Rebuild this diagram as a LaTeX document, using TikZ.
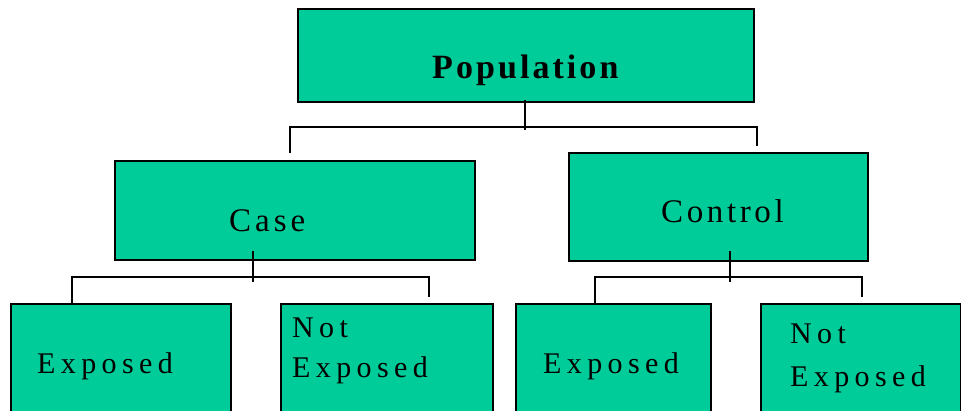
\documentclass[tikz,border=0pt]{standalone}
\usepackage{fontspec}
\setmainfont{Liberation Serif}
\definecolor{boxgreen}{RGB}{0,204,153}
\begin{document}
\begin{tikzpicture}[x=1pt,y=-1pt,
  gbox/.style={draw=black,fill=boxgreen,line width=2pt,rectangle,inner sep=0pt},
  conn/.style={draw=black,line width=2pt},
  lbl/.style={anchor=base west,inner sep=0pt,text=black}]
\useasboundingbox (0,0) rectangle (961,410);
\clip (0,0) rectangle (961,410);
% boxes
\node[gbox,minimum width=456pt,minimum height=93pt] (pop) at (526,55.5) {};
\node[gbox,minimum width=360pt,minimum height=99pt] (case) at (295,210.5) {};
\node[gbox,minimum width=299pt,minimum height=108pt] (ctrl) at (718.5,207) {};
\node[gbox,minimum width=220pt,minimum height=130pt] (e1) at (121,369) {};
\node[gbox,minimum width=212pt,minimum height=130pt] (n1) at (387,369) {};
\node[gbox,minimum width=195pt,minimum height=130pt] (e2) at (613.5,369) {};
\node[gbox,minimum width=200pt,minimum height=130pt] (n2) at (861,369) {};
% labels
\node[lbl,font=\fontsize{34}{34}\selectfont\bfseries\addfontfeatures{LetterSpace=9}] (tpop) at (432,78) {Population};
\node[lbl,font=\fontsize{33}{33}\selectfont\addfontfeatures{LetterSpace=12}] (tcase) at (229,231) {Case};
\node[lbl,font=\fontsize{33}{33}\selectfont\addfontfeatures{LetterSpace=11}] (tctrl) at (661,222) {Control};
\node[lbl,font=\fontsize{30}{30}\selectfont\addfontfeatures{LetterSpace=18}] (te1) at (37,373) {Exposed};
\node[lbl,font=\fontsize{30}{30}\selectfont\addfontfeatures{LetterSpace=18}] (tn1a) at (292,337) {Not};
\node[lbl,font=\fontsize{30}{30}\selectfont\addfontfeatures{LetterSpace=18}] (tn1b) at (292,377) {Exposed};
\node[lbl,font=\fontsize{30}{30}\selectfont\addfontfeatures{LetterSpace=18}] (te2) at (543,373) {Exposed};
\node[lbl,font=\fontsize{30}{30}\selectfont\addfontfeatures{LetterSpace=18}] (tn2a) at (790,343) {Not};
\node[lbl,font=\fontsize{30}{30}\selectfont\addfontfeatures{LetterSpace=18}] (tn2b) at (790,386) {Exposed};
% connector coordinates
\coordinate (p0) at (525,100);
\coordinate (p1) at (525,130);
\coordinate (pl) at (290,127);
\coordinate (pr) at (757,127);
\coordinate (plb) at (290,153);
\coordinate (prb) at (757,146);
\coordinate (c0) at (253,251);
\coordinate (c1) at (253,282);
\coordinate (cl) at (72,277);
\coordinate (cr) at (429,277);
\coordinate (crb) at (429,297);
\coordinate (k0) at (730,251);
\coordinate (k1) at (730,282);
\coordinate (kl) at (595,277);
\coordinate (kr) at (862,277);
\coordinate (krb) at (862,297);
% connectors
\draw[conn] (p0) -- (p1);
\draw[conn] (plb) -- (pl) -- (pr) -- (prb);
\draw[conn] (c0) -- (c1);
\draw[conn] (e1.north -| cl) -- (cl) -- (cr) -- (crb);
\draw[conn] (k0) -- (k1);
\draw[conn] (e2.north -| kl) -- (kl) -- (kr) -- (krb);
\end{tikzpicture}
\end{document}
